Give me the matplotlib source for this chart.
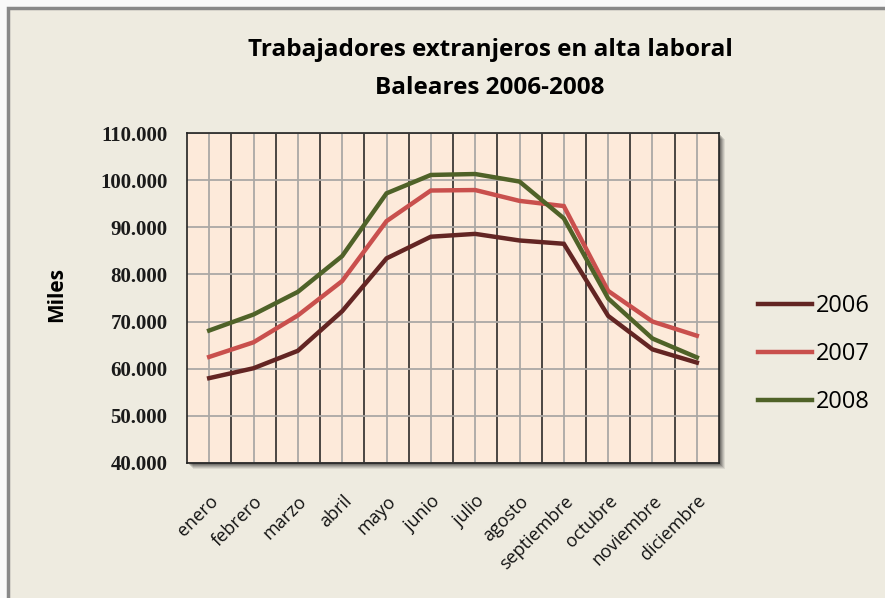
import matplotlib
matplotlib.use("Agg")
import matplotlib.pyplot as plt
from matplotlib.patches import Rectangle
from matplotlib.transforms import ScaledTranslation

# Data (miles de trabajadores)
meses = ["enero", "febrero", "marzo", "abril", "mayo", "junio", "julio",
         "agosto", "septiembre", "octubre", "noviembre", "diciembre"]
y2006 = [58.0, 60.1, 63.8, 72.2, 83.4, 88.0, 88.6, 87.2, 86.5, 71.2, 64.1, 61.3]
y2007 = [62.5, 65.6, 71.3, 78.6, 91.3, 97.8, 97.9, 95.6, 94.5, 76.5, 70.0, 67.0]
y2008 = [68.1, 71.5, 76.3, 83.9, 97.2, 101.1, 101.3, 99.7, 91.9, 74.9, 66.4, 62.4]
series = [("2006", y2006, "#632523"), ("2007", y2007, "#C9504D"), ("2008", y2008, "#4F6228")]
yticks = [40, 50, 60, 70, 80, 90, 100, 110]

W, H = 885, 598
fig = plt.figure(figsize=(W / 100, H / 100), dpi=100, facecolor="#F9F9F9")

# chart area background; border only visible on top and left
fig.patches.append(Rectangle((8 / W, -0.1), 1.2, 1.1 - 8 / H, transform=fig.transFigure,
                             facecolor="#EEEBE0", edgecolor="#888888", linewidth=2.5, zorder=0))

left, bottom, width, height = 187 / W, (H - 463) / H, 532 / W, 330 / H

# soft shadow behind plot area
for i, a in enumerate([0.08, 0.10, 0.12, 0.15, 0.18]):
    off = (6 - i) / W
    offy = (6 - i) / H
    fig.patches.append(Rectangle((left + off, bottom - offy), width, height,
                                 transform=fig.transFigure, facecolor="black",
                                 edgecolor="none", alpha=a, zorder=1))

ax = fig.add_axes([left, bottom, width, height], zorder=2)
ax.set_facecolor("#FDEADA")

x = list(range(len(meses)))
ax.set_xlim(-0.5, 11.5)
ax.set_ylim(40, 110)

# grid: gray at month centres and y majors, black at category boundaries
for xi in x:
    ax.axvline(xi, color="#ABA8A5", linewidth=1.3, zorder=1)
for xi in x[:-1]:
    ax.axvline(xi + 0.5, color="#1a1a1a", linewidth=1.1, zorder=1)
for yv in yticks:
    ax.axhline(yv, color="#ABA8A5", linewidth=1.3, zorder=1)

for name, vals, col in series:
    ax.plot(x, vals, color=col, linewidth=3.2, label=name, zorder=3,
            solid_joinstyle="miter")

for s in ax.spines.values():
    s.set_color("#222222")
    s.set_linewidth(1.2)

ax.set_yticks(yticks)
ax.set_yticklabels([f"{v}.000" for v in yticks], fontfamily="Liberation Serif",
                   fontsize=15, fontweight="bold", color="#1a1a1a")
ax.set_xticks(x)
ax.set_xticklabels(meses, rotation=45, ha="right", rotation_mode="anchor",
                   fontfamily="Open Sans", fontsize=13, color="#111111")
shift = ScaledTranslation(-5 / 100, 0, fig.dpi_scale_trans)
for lab in ax.get_xticklabels():
    lab.set_transform(lab.get_transform() + shift)
ax.tick_params(axis="both", length=0)
ax.tick_params(axis="y", pad=14)
ax.tick_params(axis="x", pad=21)

fig.text(57 / W, 1 - 295 / H, "Miles", rotation=90, ha="center", va="center",
         fontfamily="Open Sans", fontweight="bold", fontsize=15)

fig.text(490 / W, 1 - 50 / H, "Trabajadores extranjeros en alta laboral",
         ha="center", va="center", fontfamily="Open Sans", fontweight="bold", fontsize=17.5)
fig.text(490 / W, 1 - 88 / H, "Baleares 2006-2008",
         ha="center", va="center", fontfamily="Open Sans", fontweight="bold", fontsize=17.5)

leg = fig.legend(loc="center left", bbox_to_anchor=(758 / W, 1 - 354 / H),
                 frameon=False, prop={"family": "Open Sans", "size": 17},
                 handlelength=2.3, handletextpad=0.17, labelspacing=1.02,
                 borderpad=0, borderaxespad=0)

fig.savefig("out.png", dpi=100, facecolor=fig.get_facecolor())
